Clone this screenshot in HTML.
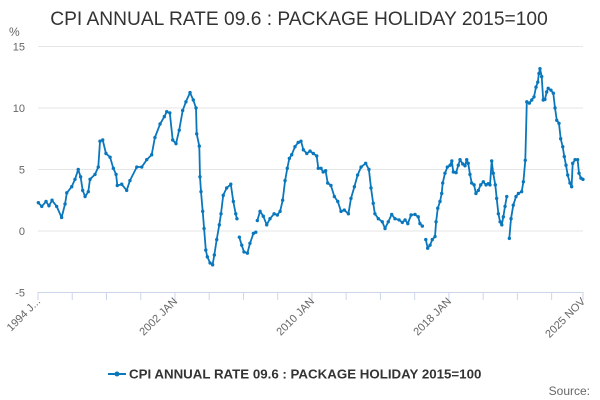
<!DOCTYPE html>
<html><head><meta charset="utf-8"><style>
body{margin:0;background:#fff;font-family:"Liberation Sans",sans-serif;}
svg{display:block}
</style></head><body>
<svg id="chart" width="600" height="400">
<text x="299" y="25" text-anchor="middle" font-size="19.2" fill="#333">CPI ANNUAL RATE 09.6 : PACKAGE HOLIDAY 2015=100</text>
<text x="9" y="36" font-size="12" fill="#666">%</text>
<g id="grid"></g><g id="xaxis"></g><g id="series"></g>
<g>
<line x1="108" y1="374" x2="126" y2="374" stroke="#0a77bd" stroke-width="2"/>
<circle cx="117" cy="374" r="2.5" fill="#0a77bd"/>
<text x="129" y="378.5" font-size="13.3" font-weight="bold" fill="#333">CPI ANNUAL RATE 09.6 : PACKAGE HOLIDAY 2015=100</text>
</g>
<text x="590" y="395" text-anchor="end" font-size="12" fill="#666">Source:</text>
</svg>
<script>
const yTicks=[15,10,5,0,-5];
const xTickLabels=["1994 J...","2002 JAN","2010 JAN","2018 JAN","2025 NOV"];
const xTickYears=[1994,2002,2010,2018,2025.833];
const dates=[1994.02,1994.22,1994.47,1994.64,1994.82,1995.09,1995.38,1995.58,1995.68,1995.97,1996.16,1996.35,1996.49,1996.61,1996.75,1996.94,1997.04,1997.33,1997.52,1997.62,1997.78,1997.97,1998.21,1998.40,1998.56,1998.63,1998.89,1999.18,1999.37,1999.77,2000.06,2000.35,2000.64,2000.83,2001.13,2001.38,2001.52,2001.70,2001.87,2002.06,2002.25,2002.45,2002.64,2002.88,2003.07,2003.23,2003.27,2003.42,2003.46,2003.52,2003.62,2003.70,2003.80,2003.89,2004.05,2004.20,2004.30,2004.44,2004.59,2004.69,2004.82,2005.02,2005.26,2005.41,2005.55,2005.62,2005.70,2005.76,2005.90,2006.03,2006.23,2006.38,2006.58,2006.72,2006.78,2006.81,2006.97,2007.16,2007.36,2007.55,2007.79,2007.98,2008.14,2008.29,2008.43,2008.56,2008.68,2008.82,2009.01,2009.20,2009.36,2009.50,2009.70,2009.89,2010.08,2010.28,2010.37,2010.53,2010.66,2010.80,2010.92,2011.11,2011.31,2011.51,2011.70,2011.89,2012.13,2012.28,2012.48,2012.67,2012.87,2013.14,2013.33,2013.45,2013.58,2013.68,2013.88,2014.11,2014.27,2014.46,2014.66,2014.85,2015.09,2015.28,2015.44,2015.60,2015.79,2016.02,2016.21,2016.31,2016.45,2016.55,2016.65,2016.76,2016.90,2017.03,2017.19,2017.25,2017.35,2017.48,2017.58,2017.64,2017.77,2017.91,2018.07,2018.17,2018.26,2018.42,2018.55,2018.65,2018.81,2018.94,2019.04,2019.13,2019.23,2019.33,2019.47,2019.58,2019.72,2019.86,2020.01,2020.17,2020.30,2020.40,2020.50,2020.59,2020.71,2020.79,2020.89,2020.99,2021.09,2021.18,2021.28,2021.38,2021.45,2021.53,2021.63,2021.76,2021.92,2022.06,2022.25,2022.35,2022.46,2022.55,2022.70,2022.84,2022.97,2023.09,2023.19,2023.26,2023.32,2023.42,2023.51,2023.61,2023.71,2023.80,2023.96,2024.10,2024.20,2024.30,2024.43,2024.53,2024.65,2024.74,2024.84,2024.94,2025.07,2025.17,2025.23,2025.37,2025.52,2025.60,2025.71,2025.83];
const values=[2.3,2.0,2.4,2.05,2.5,2.0,1.1,2.2,3.1,3.6,4.2,5.0,4.4,3.3,2.8,3.2,4.2,4.6,5.2,7.3,7.4,6.3,6.0,5.1,4.6,3.7,3.8,3.3,4.1,5.2,5.2,5.8,6.2,7.6,8.7,9.3,9.7,9.6,7.4,7.1,8.2,9.8,10.5,11.25,10.65,10.0,7.9,6.9,4.4,3.2,1.6,0.2,-1.55,-2.1,-2.6,-2.75,-1.95,-0.7,0.5,1.4,2.9,3.5,3.8,2.4,1.4,1.0,null,-0.5,-1.15,-1.7,-1.8,-1.0,-0.2,-0.1,null,0.85,1.6,1.2,0.5,1.0,1.4,1.3,1.6,2.5,4.1,5.1,5.9,6.2,6.85,7.2,7.3,6.6,6.3,6.5,6.3,6.1,5.1,5.1,4.8,4.9,3.9,3.7,2.8,2.4,1.6,1.7,1.4,2.65,3.6,4.55,5.2,5.5,5.0,3.5,2.25,1.4,1.0,0.75,0.2,0.75,1.35,1.0,0.9,0.7,0.9,0.6,1.3,1.35,1.15,0.6,0.4,null,-0.7,-1.4,-1.15,-0.7,-0.45,0.75,1.85,2.4,3.05,3.9,4.7,5.2,5.35,5.7,4.8,4.75,5.35,5.8,5.45,5.3,5.8,5.5,4.6,3.9,3.75,3.05,3.3,3.75,4.0,3.75,3.85,3.75,5.7,4.7,3.75,2.65,1.4,0.75,0.5,1.15,2.0,2.8,null,-0.6,1.0,2.1,2.8,3.05,3.2,4.0,5.75,10.5,10.4,10.65,10.9,11.7,12.1,12.8,13.2,12.55,10.65,10.7,11.3,11.6,11.45,11.2,10.0,9.0,8.75,7.5,6.85,6.05,5.35,4.55,3.9,3.6,5.5,5.8,5.8,4.7,4.3,4.2];
const NS="http://www.w3.org/2000/svg";
const X0=38,X1=583,Y0=231,PPU=12.3,YR0=1994,YR1=2025.833;
function xs(y){return X0+(y-YR0)/(YR1-YR0)*(X1-X0);}
function ys(v){return Y0-v*PPU;}
function mk(t,a,p){const e=document.createElementNS(NS,t);for(const k in a)e.setAttribute(k,a[k]);p.appendChild(e);return e;}
const grid=document.getElementById('grid');
yTicks.forEach(t=>{
  if(t>-5){const l=mk('line',{x1:X0,x2:X1,y1:ys(t),y2:ys(t),stroke:'#e6e6e6'},grid);
  
  }
  const tx=mk('text',{x:25,y:ys(t)+4,'text-anchor':'end','font-size':11,fill:'#666'},grid);
  tx.textContent=t;
  
  
});
const xa=document.getElementById('xaxis');
const ax=mk('line',{x1:X0,x2:X1,y1:292.5,y2:292.5,stroke:'#ccd6eb'},xa);


for(let y=1994;y<=2026;y+=2){const x=Math.min(xs(y),X1);const tk=mk('line',{x1:x,x2:x,y1:292,y2:300,stroke:'#ccd6eb'},xa);

}
xTickLabels.forEach((s,i)=>{const x=xs(xTickYears[i])+3,y=302;
  const t=mk('text',{x:x,y:y,'text-anchor':'end','font-size':11,fill:'#666',transform:`rotate(-45 ${x} ${y})`},xa);
  t.textContent=s;
  
  });
const g=document.getElementById('series');
let d='',pen=false;
dates.forEach((dt,i)=>{const v=values[i];if(v===null){pen=false;return;}
  d+=(pen?'L':'M')+xs(dt).toFixed(1)+' '+ys(v).toFixed(1);pen=true;});
const path=mk('path',{d:d,fill:'none',stroke:'#0a77bd','stroke-width':1.8,'stroke-linejoin':'round'},g);


dates.forEach((dt,i)=>{const v=values[i];if(v===null)return;
  const c=mk('circle',{cx:xs(dt),cy:ys(v),r:1.7,fill:'#0a77bd'},g);
  
  });
</script>
</body></html>
